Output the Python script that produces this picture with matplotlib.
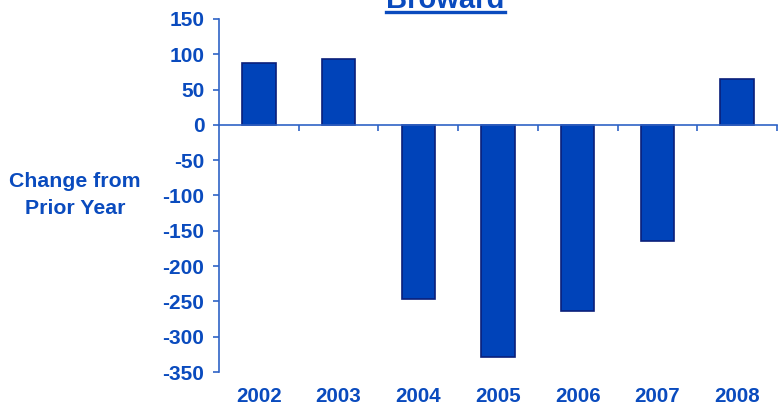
import matplotlib
matplotlib.use("Agg")
import matplotlib.pyplot as plt
from matplotlib.lines import Line2D
import matplotlib.transforms as mtransforms

years = ["2002", "2003", "2004", "2005", "2006", "2007", "2008"]
changes = [87, 93, -246, -329, -263, -164, 65]
yticks = [150, 100, 50, 0, -50, -100, -150, -200, -250, -300, -350]

text_color = "#0A4BBE"
bar_color = "#0043B9"
edge_color = "#0A1F7A"
axis_color = "#2F63C6"

plt.rcParams["font.family"] = ["Liberation Sans", "DejaVu Sans"]
plt.rcParams["font.weight"] = "bold"

fig = plt.figure(figsize=(7.78, 4.04), dpi=100)
ax = fig.add_axes([219 / 778, 1 - 372 / 404, (777 - 219) / 778, (372 - 19) / 404])

x = list(range(len(years)))
ax.bar(x, changes, width=0.42, color=bar_color, edgecolor=edge_color, linewidth=1.2, zorder=3)

ax.set_xlim(-0.5, len(years) - 0.5)
ax.set_ylim(-350, 150)
ax.set_yticks(yticks)
ax.set_yticklabels([str(v) for v in yticks])
ax.tick_params(axis="y", direction="out", length=4.5, width=1.2, color=axis_color,
               labelcolor=text_color, labelsize=15, pad=6)

for side in ["top", "right"]:
    ax.spines[side].set_visible(False)
ax.spines["left"].set_color(axis_color)
ax.spines["left"].set_linewidth(1.2)
ax.spines["bottom"].set_position(("data", 0))
ax.spines["bottom"].set_color(axis_color)
ax.spines["bottom"].set_linewidth(1.2)
ax.spines["bottom"].set_zorder(4)

ax.set_xticks([i + 0.5 for i in x])
ax.set_xticklabels([])
ax.tick_params(axis="x", direction="out", length=4.5, width=1.2, color=axis_color)

trans = mtransforms.blended_transform_factory(ax.transData, ax.transAxes)
for xi, yr in zip(x, years):
    ax.text(xi, -0.068, yr, transform=trans, ha="center", va="center",
            fontsize=14.8, fontweight="bold", color=text_color)

fig.text(75 / 778, 1 - 195 / 404, "Change from\nPrior Year", ha="center", va="center",
         fontsize=15.3, fontweight="bold", color=text_color, linespacing=1.5)

title = fig.text(445.5 / 778, 1 - 8.5 / 404, "Broward", ha="center", va="baseline",
                 fontsize=21, fontweight="bold", color=text_color)
fig.canvas.draw()
bb = title.get_window_extent()
yline = 1 - 12 / 404
fig.add_artist(Line2D([bb.x0 / fig.bbox.width, bb.x1 / fig.bbox.width], [yline, yline],
                      transform=fig.transFigure, color=text_color, linewidth=2.4))

fig.savefig("out.png", dpi=100)
